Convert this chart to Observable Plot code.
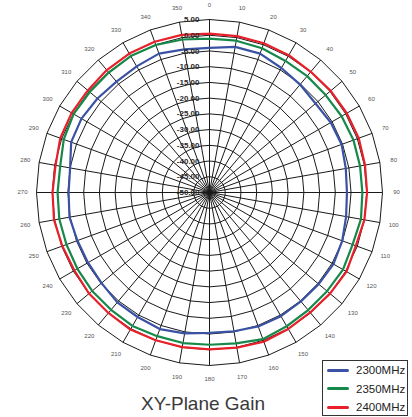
<!DOCTYPE html>
<html>
<head>
<meta charset="utf-8">
<script src="https://cdn.jsdelivr.net/npm/d3@7"></script>
<script src="https://cdn.jsdelivr.net/npm/@observablehq/plot@0.6"></script>
<style>
  html, body { margin: 0; padding: 0; background: #fff; }
  #wrap { position: relative; width: 412px; height: 417px; overflow: hidden; font-family: "Liberation Sans", Arial, sans-serif; }
  #title { position: absolute; left: 0; width: 412px; top: 393px; text-align: center; font-size: 19px; color: #3a3a3a; letter-spacing: 0px; padding-right: 6px; box-sizing: border-box; }
  #legend { position: absolute; left: 322px; top: 360px; width: 86px; height: 56px; border: 1px solid #333; box-sizing: border-box; background: #fff; }
  .row { position: absolute; left: 4px; height: 14px; display: flex; align-items: center; font-size: 11.5px; color: #222; }
  .sw { width: 22px; height: 3px; border-radius: 1.5px; margin-right: 7px; }
</style>
</head>
<body>
<div id="wrap">
  <div id="chart"></div>
  <div id="title">XY-Plane Gain</div>
  <div id="legend"></div>
</div>
<script>
// ---- data ----
const angles = [0,10,20,30,40,50,60,70,80,90,100,110,120,130,140,150,160,170,180,190,200,210,220,230,240,250,260,270,280,290,300,310,320,330,340,350];
const ringTicks = [5,0,-5,-10,-15,-20,-25,-30,-35,-40,-45,-50];
const seriesNames = ["2300MHz", "2350MHz", "2400MHz"];
const seriesColors = ["#3a52a4", "#16894a", "#e8202a"];
const gain2300 = [-4.0,-3.0,-3.0,-4.3,-5.2,-6.0,-5.5,-5.3,-6.0,-6.3,-5.9,-5.1,-4.5,-4.7,-4.8,-4.6,-4.7,-5.2,-5.4,-4.5,-3.8,-4.3,-4.4,-5.2,-5.4,-5.3,-4.8,-5.2,-5.0,-3.2,-3.0,-3.5,-4.0,-3.7,-3.0,-3.8];
const gain2350 = [-1.1,-1.0,-1.2,-1.7,-1.7,-1.8,-1.5,-1.3,-1.4,-1.4,-1.1,-1.6,-1.0,-1.2,-1.2,-0.9,-0.4,-1.3,-1.6,-1.4,-1.4,-1.0,-1.3,-1.3,-1.5,-1.6,-1.5,-1.7,-1.8,-0.7,-0.1,-0.3,-0.2,0.1,-0.1,-0.6];
const gain2400 = [0.5,0.5,0.5,0.4,0.1,0.3,0.4,0.5,0.2,0.1,0.0,-0.5,0.3,0.0,-0.2,0.1,0.5,0.1,-0.1,-0.1,0.0,0.3,0.0,0.0,-0.4,-0.2,0.2,-0.1,-0.3,0.5,0.6,0.5,0.8,1.0,1.0,0.9];

// ---- layout ----
const W = 412, H = 417, CX = 209, CY = 192, R = 173;
const rMin = -50, rMax = 5;
const rad = d3.scaleLinear().domain([rMin, rMax]).range([0, 1]);
const toRad = a => a * Math.PI / 180;
const px = (a, r) => r * Math.sin(toRad(a));
const py = (a, r) => r * Math.cos(toRad(a));

// curves
const allGains = [gain2300, gain2350, gain2400];
const curveRows = [];
seriesNames.forEach((name, s) => {
  for (let i = 0; i <= angles.length; i++) {
    const a = angles[i % angles.length];
    const v = allGains[s][i % angles.length];
    curveRows.push({name, x: px(a, rad(v)), y: py(a, rad(v))});
  }
});

// polygonal grid rings
const ringRows = [];
ringTicks.filter(t => t > rMin).forEach(t => {
  for (let i = 0; i <= angles.length; i++) {
    const a = angles[i % angles.length];
    ringRows.push({ring: t, x: px(a, rad(t)), y: py(a, rad(t))});
  }
});

const chart = Plot.plot({
  width: W, height: H,
  marginTop: 0, marginRight: 0, marginBottom: 0, marginLeft: 0,
  style: {fontFamily: "'Liberation Sans', Arial, sans-serif", background: "transparent"},
  x: {domain: [-CX / R, (W - CX) / R], range: [0, W], axis: null},
  y: {domain: [-(H - CY) / R, CY / R], range: [H, 0], axis: null},
  color: {domain: seriesNames, range: seriesColors},
  marks: [
    Plot.line(ringRows, {x: "x", y: "y", z: "ring", stroke: "#1a1a1a", strokeWidth: 1}),
    Plot.link(angles, {x1: 0, y1: 0, x2: a => px(a, 1), y2: a => py(a, 1), stroke: "#1a1a1a", strokeWidth: 1}),
    Plot.line(curveRows, {x: "x", y: "y", z: "name", stroke: "name", strokeWidth: 2.2, curve: "linear"}),
    Plot.text(ringTicks, {x: 0, y: t => rad(t), text: t => t.toFixed(2), textAnchor: "end", dx: -10, fontSize: 8, fontWeight: "bold", fill: "#2a2a2a"}),
    Plot.text(angles, {x: a => px(a, 1.081), y: a => py(a, 1.081), text: a => String(a), fontSize: 6, fill: "#555"})
  ]
});
document.getElementById("chart").appendChild(chart);

const legend = document.getElementById("legend");
seriesNames.forEach((name, i) => {
  const row = document.createElement("div");
  row.className = "row";
  row.style.top = (2 + i * 18.5) + "px";
  row.innerHTML = `<div class="sw" style="background:${seriesColors[i]}"></div><span>${name}</span>`;
  legend.appendChild(row);
});
</script>
</body>
</html>
